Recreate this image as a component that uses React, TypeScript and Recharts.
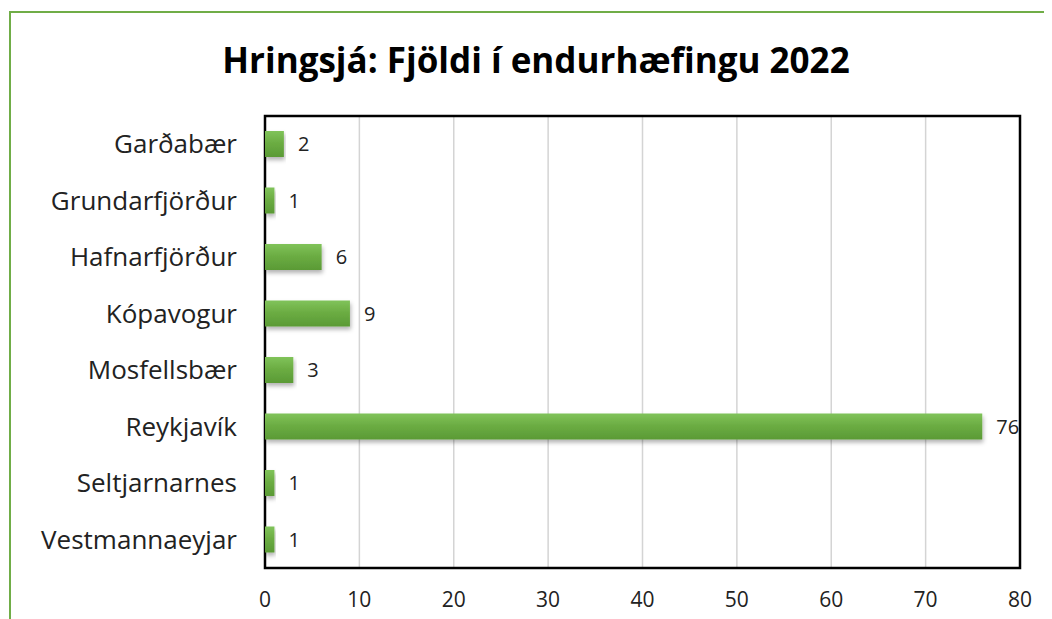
import React from "react";
import { BarChart, Bar, XAxis, YAxis, CartesianGrid, LabelList, ReferenceArea } from "recharts";

const TITLE = "Hringsjá: Fjöldi í endurhæfingu 2022";
const places = ["Garðabær", "Grundarfjörður", "Hafnarfjörður", "Kópavogur", "Mosfellsbær", "Reykjavík", "Seltjarnarnes", "Vestmannaeyjar"];
const counts = [2, 1, 6, 9, 3, 76, 1, 1];
const xTicks = [0, 10, 20, 30, 40, 50, 60, 70, 80];

const FONT = "'Open Sans', 'Noto Sans', sans-serif";
const GREEN = "#70AD47";

const data = places.map((p, i) => ({ name: p, value: counts[i] }));

function BarShape(props: any) {
  const { x, y, width, height } = props;
  if (!width || width <= 0) return null;
  return <rect x={x} y={y} width={width} height={height} fill="url(#barGrad)" filter="url(#barShadow)" />;
}

export default function App() {
  return (
    <div style={{ position: "relative", width: 1044, height: 611, overflow: "hidden", background: "#fff", fontFamily: FONT }}>
      {/* green chart frame, right and bottom edges run off the picture */}
      <div style={{ position: "absolute", left: 1, top: 3, width: 1100, height: 700, border: `2px solid ${GREEN}`, boxSizing: "border-box" }} />
      <div style={{ position: "absolute", left: 9, top: 27, width: 1038, textAlign: "center", fontSize: 35, fontWeight: 700, color: "#000", lineHeight: "50px" }}>
        {TITLE}
      </div>
      <div style={{ position: "absolute", left: 0, top: 0 }}>
        <BarChart width={1044} height={611} data={data} layout="vertical" margin={{ top: 108, right: 32, bottom: 11, left: 17 }}
          barSize={26}>
          <defs>
            <linearGradient id="barGrad" x1="0" y1="0" x2="0" y2="1">
              <stop offset="0%" stopColor="#80c35a" />
              <stop offset="45%" stopColor="#6cad43" />
              <stop offset="100%" stopColor="#5a9a35" />
            </linearGradient>
            <filter id="barShadow" x="-5%" y="-30%" width="115%" height="180%">
              <feDropShadow dx="1" dy="3" stdDeviation="2" floodColor="#000" floodOpacity="0.3" />
            </filter>
          </defs>
          <CartesianGrid horizontal={false} stroke="#d4d4d4" strokeWidth={1.5} />
          <XAxis type="number" domain={[0, 80]} ticks={xTicks} interval={0} axisLine={false} tickLine={false}
            tickSize={0} tickMargin={24} height={40} tick={{ fontSize: 21, fill: "#222", fontFamily: FONT }} />
          <YAxis type="category" dataKey="name" width={240} axisLine={false} tickLine={false} tickSize={0} tickMargin={28}
            interval={0} tick={{ fontSize: 26, fill: "#222", fontFamily: FONT }} />
          <ReferenceArea x1={0} x2={80} fill="none" stroke="#000" strokeWidth={2.5} ifOverflow="visible" />
          <Bar dataKey="value" isAnimationActive={false} shape={BarShape}>
            <LabelList dataKey="value" position="right" offset={14} style={{ fontSize: 20, fill: "#222", fontFamily: FONT }} />
          </Bar>
        </BarChart>
      </div>
    </div>
  );
}
